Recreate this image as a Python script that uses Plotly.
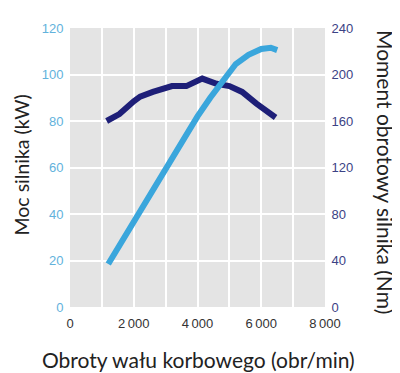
import plotly.graph_objects as go

# Power curve (kW) vs engine speed (rpm)
power_rpm = [1200, 2000, 3000, 4000, 4400, 4800, 5200, 5600, 6000, 6300, 6500]
power_kw = [18.5, 37, 60, 82, 90, 97.5, 104.5, 108.5, 111, 111.5, 110.5]

# Torque curve (Nm) vs engine speed (rpm)
torque_rpm = [1150, 1550, 2000, 2200, 2600, 3200, 3650, 4150, 4300, 4600, 5000, 5400, 5850, 6450]
torque_nm = [160, 166, 177, 181, 185, 190, 190, 196.5, 195, 192, 190, 185, 175, 163]

x_ticks = [0, 2000, 4000, 6000, 8000]
x_labels = ["0", "2\u2009000", "4\u2009000", "6\u2009000", "8\u2009000"]

LIGHT = "#3aa6dc"
NAVY = "#1e1f78"
TXT = "#222222"
TFONT = "Lato, Open Sans, sans-serif"

fig = go.Figure()
fig.add_trace(go.Scatter(x=torque_rpm, y=torque_nm, mode="lines",
                         line=dict(color=NAVY, width=6), yaxis="y"))
fig.add_trace(go.Scatter(x=power_rpm, y=power_kw, mode="lines",
                         line=dict(color=LIGHT, width=6), yaxis="y2"))

fig.update_layout(
    width=392, height=365,
    margin=dict(l=62, r=75, t=20, b=66),
    paper_bgcolor="white", plot_bgcolor="#e4e4e4",
    showlegend=False,
    font=dict(family="Arial, Liberation Sans, sans-serif", size=13, color=TXT),
    xaxis=dict(range=[0, 8000], tickvals=x_ticks, ticktext=x_labels,
               showgrid=True, gridcolor="white", gridwidth=2,
               minor=dict(dtick=1000, showgrid=True, gridcolor="white", gridwidth=2),
               zeroline=False, showline=False, automargin=False,
               ticks="outside", ticklen=4, tickcolor="rgba(0,0,0,0)",
               tickfont=dict(color="#333333", size=13)),
    yaxis=dict(range=[0, 240], dtick=40, side="right", automargin=False,
               showgrid=True, gridcolor="white", gridwidth=2, zeroline=False,
               ticks="outside", ticklen=3, tickcolor="rgba(0,0,0,0)",
               tickfont=dict(color="#3b4285", size=13)),
    yaxis2=dict(range=[0, 120], dtick=20, side="left", overlaying="y",
                showgrid=False, zeroline=False, automargin=False,
                ticks="outside", ticklen=3, tickcolor="rgba(0,0,0,0)",
                tickfont=dict(color="#62b2dc", size=13)),
    annotations=[
        dict(text="Moc silnika (kW)", xref="paper", yref="paper",
             x=(20.5 - 70) / 255, y=(306 - 164) / 279, xanchor="center", yanchor="middle",
             textangle=-90, showarrow=False,
             font=dict(family=TFONT, size=19.5, color=TXT)),
        dict(text="Moment obrotowy silnika (Nm)", xref="paper", yref="paper",
             x=(386 - 70) / 255, y=(306 - 171) / 279, xanchor="center", yanchor="middle",
             textangle=90, showarrow=False,
             font=dict(family=TFONT, size=21, color=TXT)),
        dict(text="Obroty wału korbowego (obr/min)", xref="paper", yref="paper",
             x=(198 - 70) / 255, y=(306 - 358) / 279, xanchor="center", yanchor="middle",
             showarrow=False,
             font=dict(family=TFONT, size=21, color=TXT)),
    ],
)

fig.write_html("out.html")
